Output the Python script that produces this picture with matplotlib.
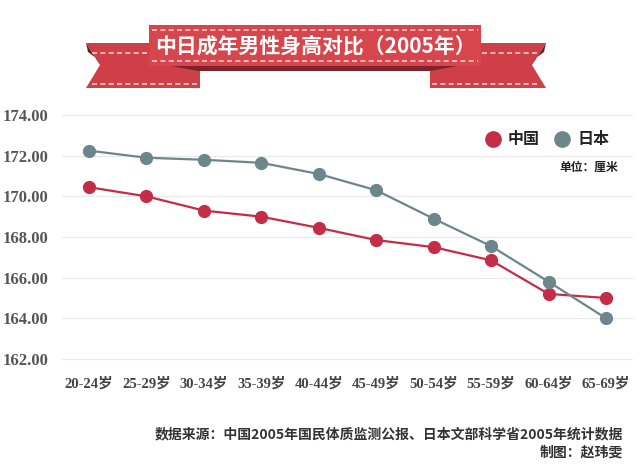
import matplotlib.pyplot as plt
from matplotlib.patches import Polygon
from matplotlib.lines import Line2D

# data
ages = ["20-24岁", "25-29岁", "30-34岁", "35-39岁", "40-44岁",
        "45-49岁", "50-54岁", "55-59岁", "60-64岁", "65-69岁"]
china = [170.45, 170.0, 169.3, 169.0, 168.45, 167.85, 167.5, 166.85, 165.2, 165.0]
japan = [172.25, 171.9, 171.8, 171.65, 171.1, 170.3, 168.9, 167.55, 165.8, 164.0]
yticks = [162, 164, 166, 168, 170, 172, 174]

c_cn = "#c32d48"
c_jp = "#6c878b"
cjk = ["Noto Sans CJK SC", "DejaVu Sans"]
serif_cjk = ["Liberation Serif", "Noto Sans CJK SC"]

W, H = 640, 473
fig = plt.figure(figsize=(6.4, 4.73), dpi=100)
fig.patch.set_facecolor("white")


def px(x, y):
    return (x / W, 1 - y / H)


# ribbon banner
def poly(pts, color, z):
    fig.patches.append(Polygon([px(*p) for p in pts], closed=True,
                               transform=fig.transFigure, facecolor=color,
                               edgecolor="none", zorder=z))


# tails
poly([(86, 43), (200, 43), (200, 88), (86, 88), (100, 65)], "#cf3f47", 1)
poly([(430, 43), (546, 43), (532, 65), (546, 88), (430, 88)], "#cf3f47", 1)
# folds at tail ends
poly([(86, 43), (100, 65), (96, 58), (88, 52)], "#6a2024", 2)
poly([(546, 43), (532, 65), (536, 58), (544, 52)], "#6a2024", 2)
# shadow under central box
poly([(150, 62), (480, 62), (430, 71), (198, 71)], "#7e2329", 2)
# central box
poly([(149, 25), (481, 25), (481, 66), (149, 66)], "#d8464d", 3)

dash = dict(transform=fig.transFigure, color="#f6cccc", lw=1.2,
            linestyle=(0, (3, 2)), zorder=4)
for (x0, x1, y) in [(152, 478, 30), (152, 478, 61), (92, 148, 53),
                    (482, 540, 53), (92, 198, 84), (432, 540, 84)]:
    fig.lines.append(Line2D([x0 / W, x1 / W], [1 - y / H, 1 - y / H], **dash))

fig.text(315 / W, 1 - 46 / H, "中日成年男性身高对比（2005年）", ha="center",
         va="center", color="white", fontsize=15, fontweight="bold",
         family=cjk, zorder=5)

# main axes
ax = fig.add_axes([62 / W, 1 - 363 / H, 571 / W, 252 / H])
x = list(range(len(ages)))
ax.plot(x, china, color=c_cn, lw=1.6, marker="o", ms=8.5, zorder=3, clip_on=False)
ax.plot(x, japan, color=c_jp, lw=1.6, marker="o", ms=8.5, zorder=3, clip_on=False)

ax.set_xlim(-0.47, len(ages) - 1 + 0.47)
ax.set_ylim(161.8, 174.2)
ax.set_yticks(yticks)
ax.set_yticklabels([f"{v:.2f}" for v in yticks])
ax.set_xticks(x)
ax.set_xticklabels(ages)
ax.grid(axis="y", color="#e9e9e9", lw=0.8)
ax.set_axisbelow(True)
for s in ax.spines.values():
    s.set_visible(False)
ax.tick_params(length=0)
ax.tick_params(axis="y", pad=10)
ax.tick_params(axis="x", pad=10)
for lab in ax.get_yticklabels():
    lab.set_family(serif_cjk)
    lab.set_fontsize(12)
    lab.set_fontweight("bold")
    lab.set_color("#555555")
for lab in ax.get_xticklabels():
    lab.set_family(serif_cjk)
    lab.set_fontsize(10.5)
    lab.set_fontweight("bold")
    lab.set_color("#444444")

# legend
fig.lines.append(Line2D([493 / W], [1 - 139 / H], marker="o", ms=11, color=c_cn,
                        transform=fig.transFigure))
fig.lines.append(Line2D([562 / W], [1 - 139 / H], marker="o", ms=11, color=c_jp,
                        transform=fig.transFigure))
fig.text(508 / W, 1 - 139 / H, "中国", va="center", fontsize=11.5,
         fontweight="bold", family=cjk, color="#222222")
fig.text(578 / W, 1 - 139 / H, "日本", va="center", fontsize=11.5,
         fontweight="bold", family=cjk, color="#222222")
fig.text(618 / W, 1 - 167 / H, "单位：厘米", ha="right", va="center", fontsize=8.5,
         fontweight="bold", family=cjk, color="#222222")

# footer
fig.text(623 / W, 1 - 434 / H,
         "数据来源：中国2005年国民体质监测公报、日本文部科学省2005年统计数据",
         ha="right", va="center", fontsize=10, fontweight="bold", family=cjk,
         color="#333333")
fig.text(623 / W, 1 - 453 / H, "制图：赵玮雯", ha="right", va="center",
         fontsize=10, fontweight="bold", family=cjk, color="#333333")

fig.savefig("out.png", dpi=100, facecolor="white")
